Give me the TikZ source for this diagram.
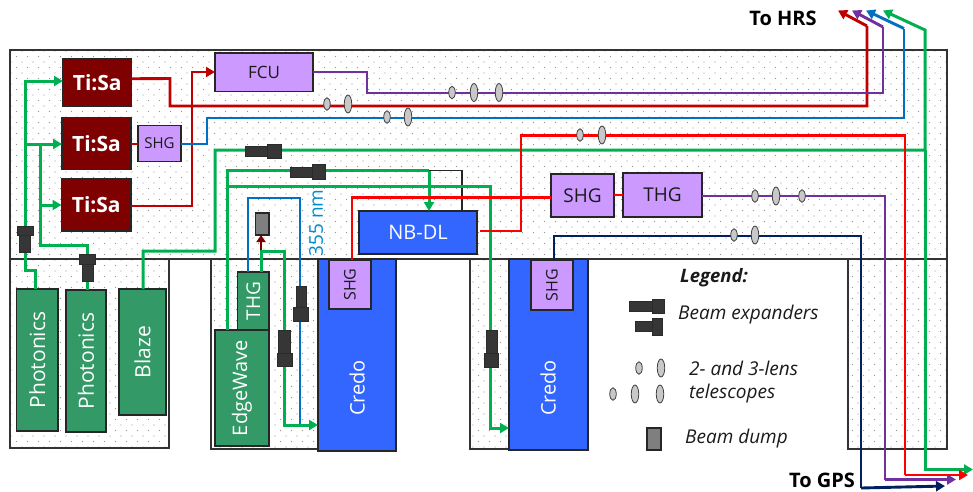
\documentclass[tikz,border=0pt]{standalone}
\usepackage{fontspec}
\usepackage{graphicx}
\setmainfont{Open Sans}
\usetikzlibrary{arrows.meta,patterns.meta,shapes.geometric,calc}
\definecolor{cGreen}{HTML}{00B050}
\definecolor{cDkRed}{HTML}{C00000}
\definecolor{cRed}{HTML}{FF0000}
\definecolor{cPurple}{HTML}{7030A0}
\definecolor{cBlue}{HTML}{0070C0}
\definecolor{cNavy}{HTML}{002060}
\definecolor{bTisa}{HTML}{7F0000}
\definecolor{bViolet}{HTML}{CC99FF}
\definecolor{bGreen}{HTML}{339966}
\definecolor{bBlue}{HTML}{3366FF}
\definecolor{cEdge}{HTML}{262626}
\definecolor{cDark}{HTML}{363636}
\definecolor{cLens}{HTML}{C8C8C8}
\definecolor{cDump}{HTML}{7F7F7F}
\definecolor{cText}{HTML}{1A1A1A}
\tikzset{
  box/.style={draw=cEdge,line width=1.3pt,inner sep=0pt,outer sep=0pt,align=center},
  tisa/.style={box,fill=bTisa,text=white,font=\bfseries\fontsize{21}{21}\selectfont},
  violet/.style={box,fill=bViolet,text=cText,font=\fontsize{15}{15}\selectfont},
  violetl/.style={violet,font=\fontsize{19}{19}\selectfont},
  violetr/.style={violet,font=\fontsize{17}{17}\selectfont},
  gbox/.style={box,fill=bGreen,text=white,font=\fontsize{21}{21}\selectfont},
  bbox/.style={box,fill=bBlue,text=white,font=\fontsize{20}{20}\selectfont},
  credotxt/.style={text=white,font=\fontsize{20}{20}\selectfont,rotate=90,inner sep=0pt},
  expander/.style={draw=cDark!80!black,fill=cDark,line width=.5pt,inner sep=0pt,outer sep=0pt},
  dumpbox/.style={draw=cEdge,fill=cDump,line width=1.2pt,inner sep=0pt,outer sep=0pt},
  lens/.style={ellipse,draw=black!75,fill=cLens,line width=.8pt,inner sep=0pt,outer sep=0pt,minimum width=6.5pt},
  lenss/.style={lens,minimum height=12.5pt},
  lensl/.style={lens,minimum width=7.5pt,minimum height=18pt},
  beam/.style={line width=2.9pt,line join=miter},
  gbeam/.style={beam,color=cGreen,line width=3pt},
  rbeam/.style={beam,color=cDkRed},
  bbeam/.style={beam,color=cRed},
  pbeam/.style={beam,color=cPurple},
  lbeam/.style={beam,color=cBlue},
  nbeam/.style={beam,color=cNavy},
  tip/.style={-{Triangle[length=9pt,width=10pt]}},
  dots1/.style={pattern={Dots[distance=11pt,radius=.6pt]},pattern color=black!42},
  dots2/.style={pattern={Dots[distance=11pt,radius=.6pt,xshift=5.5pt,yshift=5.5pt]},pattern color=black!42},
  frame/.style={draw=black!80,line width=1.3pt},
  legendtxt/.style={font=\itshape\fontsize{19}{19}\selectfont,text=cText,anchor=west,inner sep=0pt},
  headtxt/.style={font=\bfseries\fontsize{20}{20}\selectfont,text=black,inner sep=0pt},
}
% \bx{name}{x1}{y1}{x2}{y2}{style}{text}
\newcommand{\bx}[7]{%
  \pgfmathsetmacro{\bxw}{#4-(#2)}\pgfmathsetmacro{\bxh}{#5-(#3)}%
  \node[#6,minimum width=\bxw pt,minimum height=\bxh pt] (#1) at ({(#2+#4)/2},{(#3+#5)/2}) {#7};}
\newcommand{\rot}[1]{\rotatebox{90}{#1}}
\begin{document}
\begin{tikzpicture}[x=1pt,y=-1pt]
\useasboundingbox (0,0) rectangle (973,491);
% dotted table areas
\foreach \d in {dots1,dots2}{
  \fill[\d] (10,50) rectangle (947,259);
  \fill[\d] (10,259) rectangle (169,448);
  \fill[\d] (211,259) rectangle (318,449);
  \fill[\d] (470,259) rectangle (509,449);
  \fill[\d] (848,259) rectangle (947,449);
}
\draw[frame] (10,259) -- (10,50) -- (947,50) -- (947,449) -- (848,449) -- (848,259);
\draw[frame] (10,259) -- (10,448) -- (169,448) -- (169,259);
\draw[frame] (211,259) -- (211,449) -- (318,449);
\draw[frame] (470,259) -- (470,449) -- (509,449);
\draw[frame] (10,259) -- (947,259);

% boxes
\bx{tisaA}{63}{59}{131.5}{106.5}{tisa}{Ti:Sa}
\bx{tisaB}{62}{117.5}{131}{169.5}{tisa}{Ti:Sa}
\bx{tisaC}{61.5}{178.5}{131}{231}{tisa}{Ti:Sa}
\bx{shgA}{138}{125.5}{181}{161.5}{violet}{SHG}
\bx{fcu}{215}{53}{313}{91.5}{violetr}{FCU}
\bx{nbdl}{359}{211}{477}{254}{bbox}{NB-DL}
\bx{shgC}{551}{174}{614}{217}{violetl}{SHG}
\bx{thgB}{623}{173}{702}{217}{violetl}{THG}
\bx{phoA}{16.5}{289}{58}{431}{gbox}{\rot{Photonics}}
\bx{phoB}{66}{290}{106}{432}{gbox}{\rot{Photonics}}
\bx{blaze}{119}{289}{166}{415}{gbox}{\rot{Blaze}}
\bx{thgA}{237.5}{272}{269}{330}{gbox,font=\fontsize{19}{19}\selectfont}{\rot{THG}}
\bx{edge}{215}{330}{269}{446}{gbox,font=\fontsize{20}{20}\selectfont}{\rot{EdgeWave}}
\bx{credoA}{318}{259}{396}{451}{bbox}{}
\bx{shgB}{329}{260}{371}{309}{violet,font=\fontsize{16}{16}\selectfont}{\rot{SHG}}
\bx{credoB}{509}{259}{588}{450}{bbox}{}
\bx{shgD}{531}{260}{573}{310}{violet,font=\fontsize{16}{16}\selectfont}{\rot{SHG}}
\node[credotxt] (credoAt) at (357,388) {Credo};
\node[credotxt] (credoBt) at (548,388) {Credo};
\bx{dump}{255.5}{213}{269}{235}{dumpbox}{}
\bx{dumpL}{647}{428}{661}{450}{dumpbox}{}

% named free ends
\coordinate (hrsR) at (838,10.5);
\coordinate (hrsP) at (852,10.5);
\coordinate (hrsB) at (866,10.5);
\coordinate (hrsG) at (883,10.5);
\coordinate (outG) at (973,469.5);
\coordinate (outR) at (968,475);
\coordinate (outP) at (956,479.5);
\coordinate (outN) at (945,486);
\coordinate (greenJ) at (25,144);

% green beams
\draw[gbeam,tip] (phoA.north -| 35,289) -- (35,270) -- (25,270) -- (25,81) -- (tisaA.west |- 25,81);
\draw[gbeam,tip] (greenJ) -- (tisaB.west |- greenJ);
\draw[gbeam] (greenJ) -- (40,144) -- (40,245) -- (87.5,245) -- (87.5,290);
\draw[gbeam,tip] (40,205) -- (tisaC.west |- 40,205);
\draw[gbeam,tip] (blaze.north -| 143,289) -- (143,251) -- (215,251) -- (215,150) -- (925,150) -- (925,30) -- (hrsG);
\draw[gbeam,tip] (925,150) -- (925,469.5) -- (outG);
\draw[gbeam] (edge.north -| 227,330) -- (227,170.5) -- (429,170.5);
\draw[gbeam,tip] (429,170.5) -- (nbdl.north -| 429,211);
\draw[line width=1.2pt,color=black!85] (429,170.5) -- (462,170.5) -- (nbdl.north -| 462,211);
\draw[gbeam,tip] (227,186.5) -- (490,186.5) -- (490,428) -- (credoB.west |- 490,428);
% THG beams
\draw[lbeam,line width=2.9pt] (thgA.north -| 248,272) -- (248,198) -- (300,198) -- (300,425);
\draw[line width=2.4pt,color=bTisa,-{Triangle[length=7pt,width=9pt]}] (261,251) -- (dump.south -| 261,235);
\draw[gbeam,tip] (thgA.north -| 261,272) -- (261,251) -- (284,251) -- (284,425) -- (credoA.west |- 284,425);
% red beams
\draw[rbeam] ([yshift=4pt]tisaA.east) -- (170,78.5) -- (170,106) -- (867,106) -- (867,26);
\draw[rbeam,tip] (867,26) -- (hrsR);
\draw[rbeam] (tisaB.east |- 131,144) -- (shgA.west |- 138,144);
\draw[rbeam,tip] (tisaC.east |- 131,206) -- (192,206) -- (192,72) -- (fcu.west |- 215,72);
\draw[pbeam] (fcu.east |- 313,72) -- (367,72) -- (367,93) -- (883,93) -- (883,27);
\draw[pbeam,tip] (883,27) -- (hrsP);
\draw[lbeam] (shgA.east |- 181,144) -- (207,144) -- (207,118) -- (904,118) -- (904,28.5);
\draw[lbeam,tip] (904,28.5) -- (hrsB);
\coordinate (nbOut) at (480,231);
\draw[bbeam] (nbOut) -- (521,231) -- (521,135.5) -- (905,135.5) -- (905,475);
\draw[bbeam,tip] (905,475) -- (outR);
\draw[bbeam] (shgB.north -| 352,260) -- (352,197.5) -- (shgC.west |- 551,197.5);
\draw[bbeam] (shgC.east |- 614,195) -- (thgB.west |- 623,195);
\draw[pbeam] (thgB.east |- 702,196) -- (885,196) -- (885,479.5);
\draw[pbeam,tip] (885,479.5) -- (outP);
\draw[nbeam] (shgD.north -| 554,260) -- (554,236) -- (861,236) -- (861,488);
\draw[nbeam,tip] (861,488) -- (outN);

% beam expanders (head / body)
\bx{exA1}{19.5}{235}{30.5}{252}{expander}{}\bx{exA2}{17}{226.5}{33}{235.5}{expander}{}
\bx{exB1}{82}{264}{93}{281}{expander}{}\bx{exB2}{79}{254}{95}{264.5}{expander}{}
\bx{exC1}{245}{146.5}{268}{156.5}{expander}{}\bx{exC2}{267.5}{144}{281}{158.5}{expander}{}
\bx{exD1}{290}{167}{313}{177}{expander}{}\bx{exD2}{312.5}{164}{325}{179}{expander}{}
\bx{exE1}{296}{286}{306}{307}{expander}{}\bx{exE2}{293.5}{307}{308.5}{321}{expander}{}
\bx{exF1}{278.5}{330}{290}{353}{expander}{}\bx{exF2}{277}{353}{292}{366}{expander}{}
\bx{exG1}{486}{330}{497}{353}{expander}{}\bx{exG2}{484}{353}{498.5}{367}{expander}{}
\bx{exL1}{629}{301}{652}{311}{expander}{}\bx{exL2}{652}{299}{664}{313}{expander}{}
\bx{exM1}{635}{321}{652}{331}{expander}{}\bx{exM2}{652}{318}{662}{335}{expander}{}

% lenses
\node[lenss] (l1) at (327,104) {};
\node[lensl] (l2) at (348,104) {};
\node[lenss] (l3) at (452,92.5) {};
\node[lensl] (l4) at (474,92.5) {};
\node[lensl] (l5) at (499,92.5) {};
\node[lenss] (l6) at (387,117) {};
\node[lensl] (l7) at (408,117) {};
\node[lenss] (l8) at (580,135) {};
\node[lensl] (l9) at (602,135) {};
\node[lenss] (l10) at (755,196) {};
\node[lensl] (l11) at (776,196) {};
\node[lenss] (l12) at (802,196) {};
\node[lenss] (l13) at (734,235) {};
\node[lensl] (l14) at (755,235) {};
\node[lenss] (l15) at (639,368) {};
\node[lensl] (l16) at (661,368) {};
\node[lenss] (l17) at (613,394) {};
\node[lensl] (l18) at (635,394) {};
\node[lensl] (l19) at (660,394) {};

% text
\node[font=\fontsize{19}{19}\selectfont,text=cBlue!80!cyan,rotate=90,inner sep=0pt] (nm) at (316,223) {355 nm};
\node[headtxt] (hrs) at (783,18) {To HRS};
\node[headtxt] (gps) at (822,480) {To GPS};
\node[legendtxt,font=\bfseries\itshape\fontsize{18.5}{18.5}\selectfont] (lg) at (680,278) {Legend:};
\node[legendtxt] (t1) at (678,315) {Beam expanders};
\node[legendtxt] (t2) at (689,368) {2- and 3-lens};
\node[legendtxt] (t3) at (689,394) {telescopes};
\node[legendtxt] (t4) at (685,439) {Beam dump};
\end{tikzpicture}
\end{document}
